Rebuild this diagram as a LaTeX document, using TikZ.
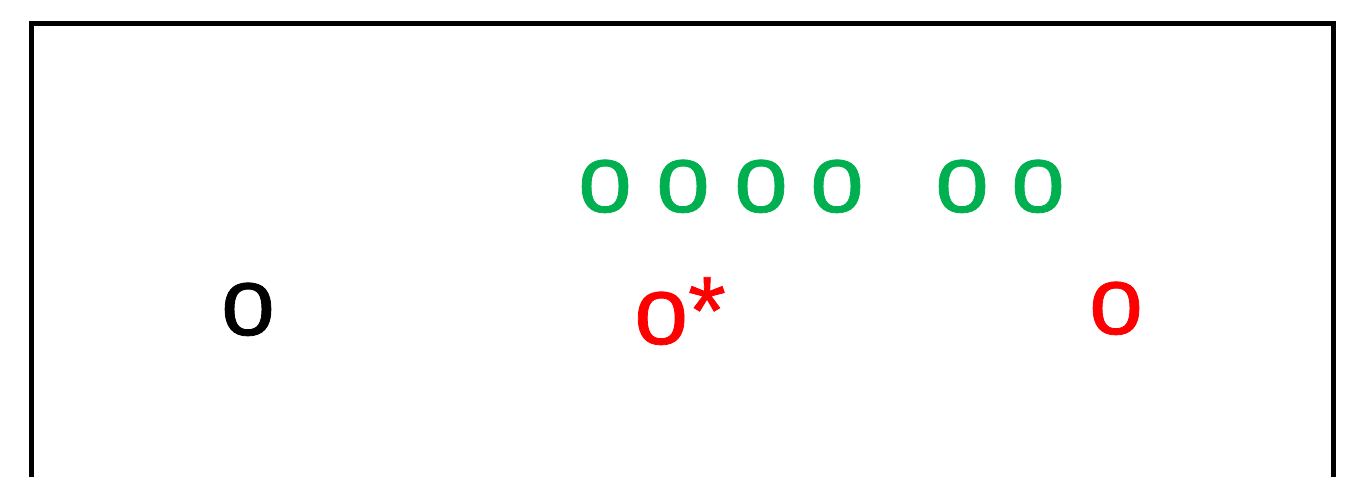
\documentclass[tikz,border=0pt]{standalone}
\usepackage{fontspec}
\usetikzlibrary{positioning}
\newfontfamily\ringfamily{Liberation Sans}[FakeBold=0.8]
\definecolor{cgreen}{RGB}{0,176,80}
\definecolor{cred}{RGB}{255,0,0}

\tikzset{
  glyph/.style={inner sep=0pt, anchor=base,
    font=\ringfamily\fontsize{97}{100}\selectfont},
}

\begin{document}
\begin{tikzpicture}[x=1pt,y=-1pt]
    \useasboundingbox (0,0) rectangle (1350,477);
    % frame, open at the bottom
    \draw[line width=4.8pt] (31.5,477) -- (31.5,23.3) -- (1333.2,23.3) -- (1333.2,477);
    % upper row
    \node[glyph, text=cgreen] (g1) at (605,212) {o};
    \node[glyph, text=cgreen] (g2) at (683,212) {o};
    \node[glyph, text=cgreen] (g3) at (761,212) {o};
    \node[glyph, text=cgreen] (g4) at (837,212) {o};
    \node[glyph, text=cgreen] (g5) at (962,212) {o};
    \node[glyph, text=cgreen] (g6) at (1038,212) {o};
    % lower row
    \node[glyph, text=black] (start) at (248,335) {o};
    \node[glyph, text=cred, anchor=base west] (star) at (634,344) {o*};
    \node[glyph, text=cred] (goal) at (1116,334) {o};
\end{tikzpicture}
\end{document}
